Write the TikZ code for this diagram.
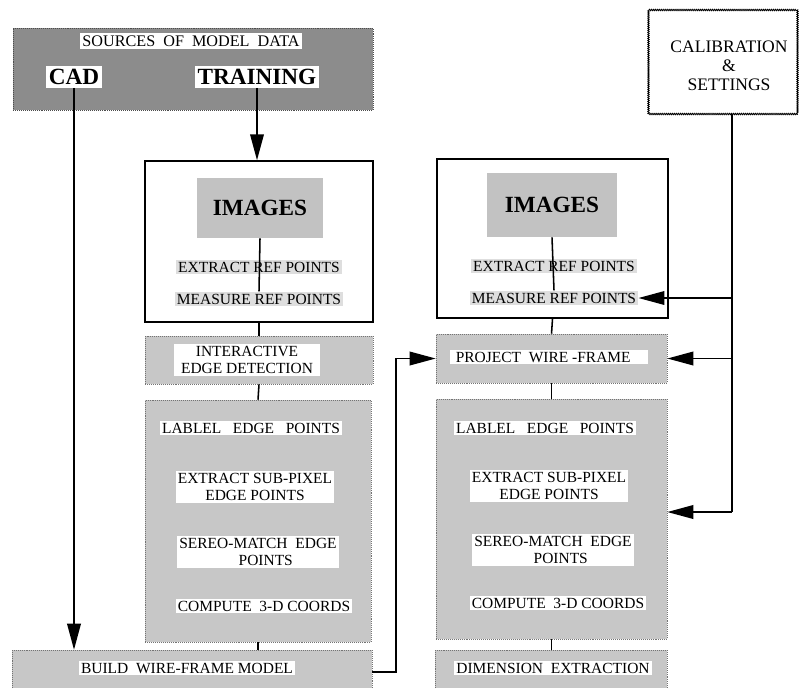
\documentclass[tikz,border=0pt]{standalone}
\usepackage{fontspec}
\setmainfont{Liberation Serif}
\usetikzlibrary{arrows.meta,positioning,calc,decorations.pathmorphing}

\begin{document}
\begin{tikzpicture}[
    x=0.025cm, y=-0.025cm,
    lbl/.style={fill=white, inner sep=1.5pt, align=center, font=\fontsize{11}{12.5}\selectfont},
    reflbl/.style={fill=black!13, inner sep=1.5pt, font=\fontsize{11}{12}\selectfont},
    bigtxt/.style={fill=white, inner sep=2pt, font=\fontsize{16.5}{18}\selectfont\bfseries},
    panel/.style={draw, line width=1pt, fill=white, inner sep=0pt},
    shade/.style={draw=black!55, densely dotted, fill=black!22, inner sep=0pt},
    imlbl/.style={fill=black!24, inner sep=0pt, font=\fontsize{16.5}{18}\selectfont\bfseries},
    link/.style={line width=1.1pt},
    arr/.style={line width=1.2pt, -{Triangle[length=6.5mm,width=3.4mm]}},
]
    \useasboundingbox (0,0) rectangle (800,687);

    % sources and calibration
    \node[shade, draw=black!70, fill=black!45, minimum width=9cm, minimum height=2.05cm] (src) at (193,69) {};
    \node[lbl, font=\fontsize{11.5}{12}\selectfont] (srct) at (191,41) {SOURCES\ \ OF\ \ MODEL\ \ DATA};
    \node[bigtxt] (cad) at (74,77) {CAD};
    \node[bigtxt] (trn) at (257,77) {TRAINING};
    \node[draw, line width=0.6pt, decorate, decoration={zigzag, segment length=1.4pt, amplitude=0.5pt},
        minimum width=3.725cm, minimum height=2.6cm] (cal) at (723,62) {};
    \node[align=center, inner sep=0pt, font=\fontsize{12.5}{13.5}\selectfont] (calt) at (729,66) {CALIBRATION\\\&\\SETTINGS};

    % left column
    \node[panel, minimum width=5.7cm, minimum height=4.025cm] (imgl) at (259,241.5) {};
    \node[imlbl, minimum width=3.15cm, minimum height=1.5cm] (iml) at (260,208) {IMAGES};
    \node[reflbl] (extl) at (259,267) {EXTRACT REF POINTS};
    \node[reflbl] (measl) at (259,299) {MEASURE REF POINTS};
    \node[shade, minimum width=5.7cm, minimum height=1.2cm] (ied) at (259,360) {};
    \node[lbl, inner xsep=5pt] (iedt) at (247,360) {INTERACTIVE\\EDGE DETECTION};
    \node[shade, minimum width=5.65cm, minimum height=6.05cm] (edgl) at (258,521) {};
    \node[lbl] (lbll) at (251,428) {LABLEL\enspace\ EDGE\enspace\ POINTS};
    \node[lbl] (subl) at (255,487) {EXTRACT SUB-PIXEL\\EDGE POINTS};
    \node[lbl] (stl) at (258,552) {SEREO-MATCH\ \ EDGE\\\quad POINTS};
    \node[lbl] (cpl) at (264,606) {COMPUTE\ \ 3-D COORDS};
    \node[shade, minimum width=9cm, minimum height=1.1cm] (build) at (192,672) {};
    \node[lbl] (buildt) at (187,668) {BUILD\ \ WIRE-FRAME MODEL};

    % right column
    \node[panel, minimum width=5.775cm, minimum height=3.975cm] (imgr) at (552.5,238.5) {};
    \node[imlbl, minimum width=3.25cm, minimum height=1.6cm] (imr) at (552,205) {IMAGES};
    \node[reflbl] (extr) at (554,266) {EXTRACT REF POINTS};
    \node[reflbl] (measr) at (554,298) {MEASURE REF POINTS};
    \node[shade, minimum width=5.775cm, minimum height=1.225cm] (proj) at (551.5,358.5) {};
    \node[lbl, inner xsep=4pt] (projt) at (549,357) {PROJECT\ \ WIRE -FRAME\ \ \ };
    \node[shade, minimum width=5.775cm, minimum height=6cm] (edgr) at (551.5,519) {};
    \node[lbl] (lblr) at (545,428) {LABLEL\enspace\ EDGE\enspace\ POINTS};
    \node[lbl] (subr) at (549,486) {EXTRACT SUB-PIXEL\\EDGE POINTS};
    \node[lbl] (str) at (553,550) {SEREO-MATCH\ \ EDGE\\\quad POINTS};
    \node[lbl] (cpr) at (558,603) {COMPUTE\ \ 3-D COORDS};
    \node[shade, minimum width=5.8cm, minimum height=1.1cm] (dim) at (551,672) {};
    \node[lbl] (dimt) at (553,668) {DIMENSION\ \ EXTRACTION};

    \coordinate (bturn) at (396,0);
    \coordinate (ctop) at (732,0);
    \coordinate (cbot) at (732,512);

    % connectors
    \draw[arr] (cad.south) -- (cad.south |- build.north);
    \draw[arr] (trn.south) -- (trn.south |- imgl.north);
    \draw[link] (iml.south) -- (measl.north);
    \draw[link] (imgl.south) -- (ied.north);
    \draw[link] (ied.south) -- (edgl.north);
    \draw[link] (edgl.south) -- (edgl.south |- build.north);
    \draw[link] (imr.south) -- (measr.north);
    \draw[link] (imgr.south) -- (proj.north);
    \draw[link] (proj.south) -- (edgr.north);
    \draw[link] (edgr.south) -- (edgr.south |- dim.north);
    \draw[arr] (build.east) -- (bturn |- build.east) -- (bturn |- proj.west) -- (proj.west);
    \draw[link] (ctop |- cal.south) -- (cbot);
    \draw[arr] (ctop |- measr.east) -- (measr.east);
    \draw[arr] (ctop |- proj.east) -- (proj.east);
    \draw[arr] (cbot) -- (cbot -| edgr.east);
\end{tikzpicture}
\end{document}
